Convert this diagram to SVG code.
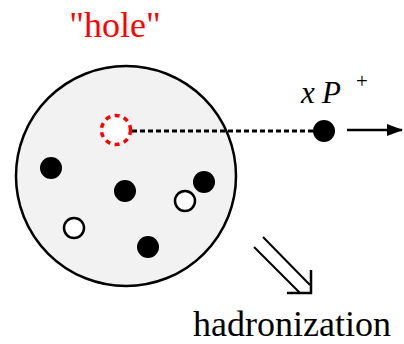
<svg xmlns="http://www.w3.org/2000/svg" width="404" height="344" viewBox="0 0 404 344">
<style>
  text { font-family: "Liberation Serif", "Times New Roman", serif; }
  .it { font-style: italic; }
  .quark { fill: #000; }
  .anti { fill: #fff; stroke: #000; stroke-width: 2.5; }
  .ln { stroke: #000; fill: none; }
</style>
<defs>
  <marker id="tip" viewBox="0 0 16 12" markerWidth="16" markerHeight="12" refX="15" refY="6" orient="auto" markerUnits="userSpaceOnUse">
    <path d="M0,0 L16,6 L0,12 Z" fill="#000"/>
  </marker>
</defs>
<g id="blob">
  <circle cx="126" cy="176" r="110" fill="#f2f2f2" stroke="#000" stroke-width="2.5"/>
</g>
<g id="connectors">
  <line x1="132" y1="131" x2="314" y2="131" stroke="#000" stroke-width="3" stroke-dasharray="5,3"/>
  <line x1="347" y1="130" x2="402" y2="130" stroke="#000" stroke-width="2.5" marker-end="url(#tip)"/>
  <g id="hadron-arrow" class="ln">
    <line x1="263" y1="237" x2="310" y2="285" stroke-width="2"/>
    <line x1="254" y1="247" x2="300" y2="293" stroke-width="2"/>
    <polyline points="311,270 311,293 287,293" stroke-width="2.5"/>
  </g>
</g>
<g id="hole">
  <circle cx="116" cy="130" r="14.5" fill="#fff" stroke="#ff0000" stroke-width="3.5" stroke-dasharray="5,4.5"/>
</g>
<g id="partons">
  <circle class="quark" cx="51" cy="168" r="11"/>
  <circle class="quark" cx="125" cy="191" r="11"/>
  <circle class="quark" cx="204" cy="182" r="11"/>
  <circle class="quark" cx="148" cy="247" r="11"/>
  <circle class="anti" cx="74" cy="228" r="10"/>
  <circle class="anti" cx="185" cy="201" r="10"/>
</g>
<g id="struck">
  <circle class="quark" cx="324" cy="131" r="11"/>
</g>
<g id="labels">
  <text x="115" y="37" font-size="36" fill="#ff0000" text-anchor="middle">"hole"</text>
  <text class="it" x="301" y="103" font-size="31">x</text>
  <text class="it" x="322" y="103" font-size="31">P</text>
  <text x="356" y="88" font-size="21">+</text>
  <text x="292" y="336" font-size="36" text-anchor="middle">hadronization</text>
</g>
</svg>
